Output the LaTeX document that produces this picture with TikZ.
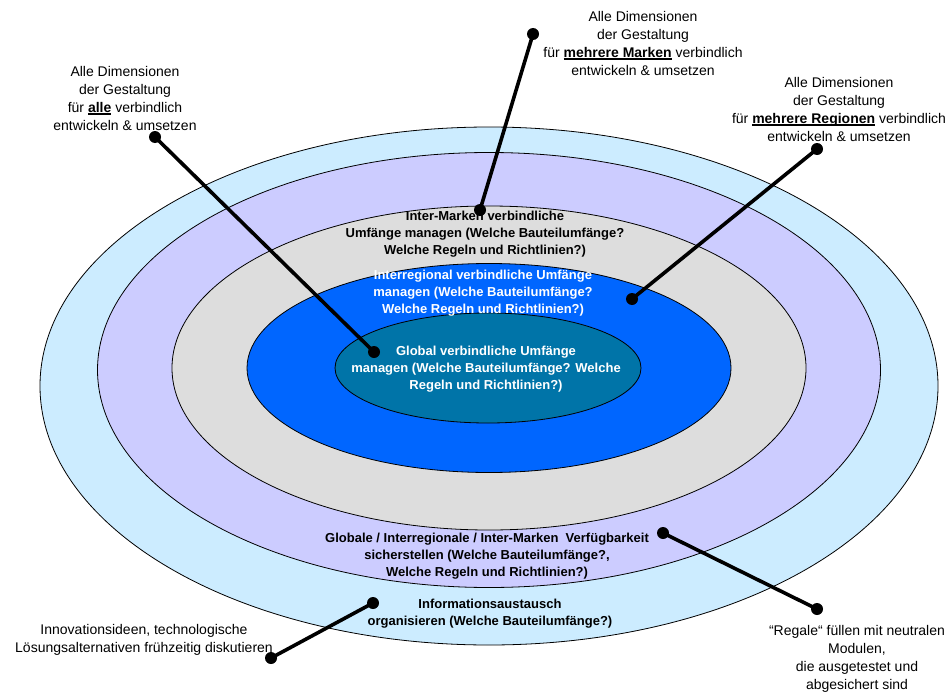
\documentclass[tikz,border=0pt]{standalone}
\usepackage{fontspec}
\setmainfont{Liberation Sans}
\usetikzlibrary{shapes.geometric}

\definecolor{ringA}{RGB}{204,236,255}
\definecolor{ringB}{RGB}{204,204,255}
\definecolor{ringC}{RGB}{221,221,221}
\definecolor{ringD}{RGB}{0,102,255}
\definecolor{ringE}{RGB}{0,116,168}

% bold, thickly underlined keyword
\newcommand{\keyword}[1]{\setbox0\hbox{\bfseries #1}\rlap{\rule[-2.6pt]{\wd0}{1.4pt}}\box0\relax}

\tikzset{
  ring/.style={ellipse, draw=black, line width=0.8pt, inner sep=0pt},
  note/.style={font=\fontsize{14}{18}\selectfont, align=center, inner sep=0pt},
  label/.style={font=\fontsize{13}{17}\selectfont\bfseries, align=center, inner sep=0pt},
  leader/.style={line width=3.6pt, black},
  knob/.style={fill=black}
}

\begin{document}
\begin{tikzpicture}[x=1pt,y=-1pt]
\useasboundingbox (0,0) rectangle (952,693);

% concentric rings
\node[ring, fill=ringA, minimum width=898pt, minimum height=518pt] (outer)  at (489,386) {};
\node[ring, fill=ringB, minimum width=783pt, minimum height=435pt] (second) at (489,370) {};
\node[ring, fill=ringC, minimum width=634pt, minimum height=324pt] (third)  at (489,368) {};
\node[ring, fill=ringD, minimum width=484pt, minimum height=209pt] (fourth) at (489,368) {};
\node[ring, fill=ringE, minimum width=306pt, minimum height=110pt] (core)   at (488,368) {};

% texts inside the rings
\node[label] (tMarken) at (485,234) {Inter-Marken verbindliche\\Umfänge managen (Welche Bauteilumfänge?\\Welche Regeln und Richtlinien?)};
\node[label, text=white] (tRegion) at (483,293) {Interregional verbindliche Umfänge\\managen (Welche Bauteilumfänge?\\Welche Regeln und Richtlinien?)};
\node[label, text=white] (tGlobal) at (486,369) {Global verbindliche Umfänge\\managen (Welche Bauteilumfänge? Welche\\Regeln und Richtlinien?)};
\node[label] (tVerf) at (487,556) {Globale / Interregionale / Inter-Marken~~Verfügbarkeit\\sicherstellen (Welche Bauteilumfänge?,\\Welche Regeln und Richtlinien?)};
\node[label] (tInfo) at (490,614) {Informationsaustausch\\organisieren (Welche Bauteilumfänge?)};

% annotations outside
\node[note] (nAlle) at (125,98) {Alle Dimensionen\\der Gestaltung\\für \keyword{alle} verbindlich\\entwickeln \& umsetzen};
\node[note] (nMarken) at (643,43) {Alle Dimensionen\\der Gestaltung\\für \keyword{mehrere Marken} verbindlich\\entwickeln \& umsetzen};
\node[note] (nRegion) at (839,109) {Alle Dimensionen\\der Gestaltung\\für \keyword{mehrere Regionen} verbindlich\\entwickeln \& umsetzen};
\node[note] (nInno) at (144,640) {Innovationsideen, technologische\\Lösungsalternativen frühzeitig diskutieren};
\node[note] (nRegale) at (857,659) {“Regale“ füllen mit neutralen\\Modulen,\\die ausgetestet und\\abgesichert sind};

% leader end points
\coordinate (aAlle)    at (155,137);
\coordinate (bAlle)    at (374,352);
\coordinate (aMarken)  at (533,34);
\coordinate (bMarken)  at (480,210);
\coordinate (aRegion)  at (817,149);
\coordinate (bRegion)  at (632,299);
\coordinate (aInno)    at (271,658);
\coordinate (bInno)    at (373,603);
\coordinate (aRegale)  at (817,609);
\coordinate (bRegale)  at (663,533);

% leaders with round knobs at both ends
\foreach \p in {Alle,Marken,Region,Inno,Regale}{
  \draw[leader] (a\p) -- (b\p);
  \fill[knob] (a\p) circle (6pt);
  \fill[knob] (b\p) circle (6pt);
}
\end{tikzpicture}
\end{document}
